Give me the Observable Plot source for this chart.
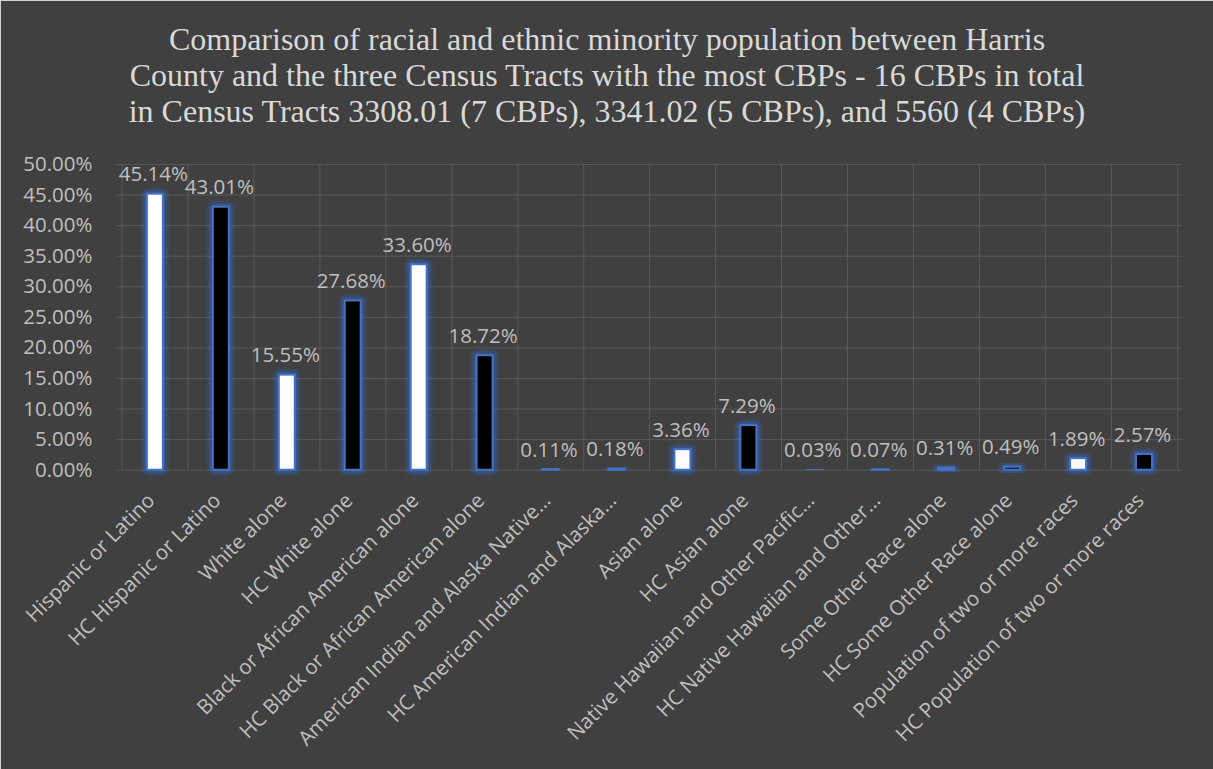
<!DOCTYPE html>
<html>
<head>
<meta charset="utf-8">
<script src="https://cdn.jsdelivr.net/npm/d3@7"></script>
<script src="https://cdn.jsdelivr.net/npm/@observablehq/plot@0.6"></script>
<style>
  html, body { margin: 0; padding: 0; background: #404040; }
  #wrap { width: 1213px; height: 769px; background: #404040; position: relative; overflow: hidden; box-sizing: border-box; border-left: 1px solid #d0d0d0; border-top: 1px solid #d0d0d0; }
  #title { font-family: "Liberation Serif", "Times New Roman", serif; font-size: 32px; line-height: 36px; color: #d9d9d9; text-align: center; padding-top: 20px; height: 109px; }
  #chart svg { display: block; margin-left: -1px; }
</style>
</head>
<body>
<div id="wrap">
  <div id="title">Comparison of racial and ethnic minority population between Harris<br>County and the three Census Tracts with the most CBPs - 16 CBPs in total<br>in Census Tracts 3308.01 (7 CBPs), 3341.02 (5 CBPs), and 5560 (4 CBPs)</div>
  <div id="chart"></div>
</div>
<script>
const categories = [
  "Hispanic or Latino",
  "HC Hispanic or Latino",
  "White alone",
  "HC White alone",
  "Black or African American alone",
  "HC Black or African American alone",
  "American Indian and Alaska Native…",
  "HC American Indian and Alaska…",
  "Asian alone",
  "HC Asian alone",
  "Native Hawaiian and Other Pacific…",
  "HC Native Hawaiian and Other…",
  "Some Other Race alone",
  "HC Some Other Race alone",
  "Population of two or more races",
  "HC Population of two or more races"
];
const values = [45.14, 43.01, 15.55, 27.68, 33.60, 18.72, 0.11, 0.18, 3.36, 7.29, 0.03, 0.07, 0.31, 0.49, 1.89, 2.57];
const groups = ["Census Tracts", "Harris County"];
const yTicks = [0, 5, 10, 15, 20, 25, 30, 35, 40, 45, 50];

const data = categories.map((c, i) => ({
  category: c,
  value: values[i],
  group: c.startsWith("HC ") ? groups[1] : groups[0]
}));

const width = 1213, height = 639;
const mL = 117, mR = 30, mT = 34, mB = 299;
const step = (width - mL - mR) / categories.length;

const chart = Plot.plot({
  width, height,
  marginTop: mT, marginBottom: mB, marginLeft: mL, marginRight: mR,
  style: { background: "transparent", color: "#bfbfbf", fontFamily: "'Open Sans', sans-serif", fontSize: "20.5px" },
  x: { domain: categories, paddingInner: 0.76, paddingOuter: 0.38, label: null },
  y: { domain: [0, 50], label: null },
  color: { domain: groups, range: ["#ffffff", "#000000"] },
  marks: [
    Plot.ruleY(yTicks, { stroke: "#595959", strokeWidth: 1 }),
    Plot.ruleX(categories, { x: d => d, dx: -step / 2, y1: 0, y2: 50, stroke: "#595959", strokeWidth: 1 }),
    Plot.ruleX([categories[categories.length - 1]], { x: d => d, dx: step / 2, y1: 0, y2: 50, stroke: "#595959", strokeWidth: 1 }),
    Plot.axisY({ ticks: yTicks, tickFormat: d => d.toFixed(2) + "%", tickSize: 0, tickPadding: 25, label: null }),
    Plot.axisX({ tickSize: 0, tickRotate: -45, tickPadding: 22, dx: -4, dy: 5, label: null }),
    Plot.barY(data, { x: "category", y: "value", fill: "group", stroke: "#4472c4", strokeWidth: 2 }),
    Plot.text(data, { x: "category", y: "value", text: d => d.value.toFixed(2) + "%", lineAnchor: "bottom", dy: -13, dx: -2, fill: "#bfbfbf", fontSize: 20.5 })
  ]
});

document.getElementById("chart").appendChild(chart);

// glow filter for bars
const svg = d3.select(chart);
const defs = svg.insert("defs", ":first-child");
const f = defs.append("filter").attr("id", "glow").attr("x", "-100%").attr("y", "-100%").attr("width", "300%").attr("height", "300%");
f.append("feMorphology").attr("in", "SourceAlpha").attr("operator", "dilate").attr("radius", 2).attr("result", "d");
f.append("feGaussianBlur").attr("in", "d").attr("stdDeviation", 2.5).attr("result", "b");
f.append("feFlood").attr("flood-color", "#2f6bd6").attr("flood-opacity", 0.7);
f.append("feComposite").attr("in2", "b").attr("operator", "in").attr("result", "g");
const m = f.append("feMerge");
m.append("feMergeNode").attr("in", "g");
m.append("feMergeNode").attr("in", "SourceGraphic");
svg.selectAll("g[aria-label='bar'] rect").attr("filter", "url(#glow)");
</script>
</body>
</html>
